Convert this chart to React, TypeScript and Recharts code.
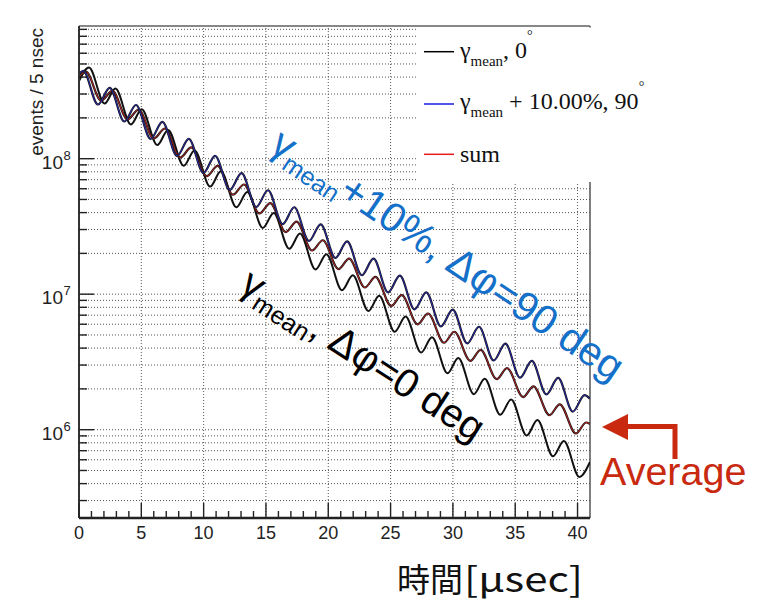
import React from "react";
import { Line, LineChart, ReferenceLine, XAxis, YAxis } from "recharts";

// extrema (peaks / troughs) of each wiggle curve, time in usec, events / 5 nsec
const meanT = [0, 0.8, 2.05, 2.92, 4.17, 5.03, 6.28, 7.15, 8.4, 9.27, 10.52, 11.38, 12.63, 13.5, 14.75, 15.62, 16.87, 17.73, 18.98, 19.85, 21.1, 21.97, 23.22, 24.08, 25.33, 26.2, 27.45, 28.32, 29.57, 30.43, 31.68, 32.55, 33.8, 34.67, 35.92, 36.78, 38.03, 38.9, 40.15, 41];
const meanN = [3.74e8, 4.7e8, 2.55e8, 3.3e8, 1.79e8, 2.32e8, 1.26e8, 1.63e8, 8.86e7, 1.15e8, 6.22e7, 8.07e7, 4.38e7, 5.67e7, 3.08e7, 3.98e7, 2.16e7, 2.8e7, 1.52e7, 1.97e7, 1.07e7, 1.38e7, 7.51e6, 9.74e6, 5.28e6, 6.84e6, 3.71e6, 4.81e6, 2.61e6, 3.38e6, 1.83e6, 2.38e6, 1.29e6, 1.67e6, 9.06e5, 1.18e6, 6.37e5, 8.26e5, 4.48e5, 5.78e5];

const plusT = [0, 0.34, 1.52, 2.46, 3.64, 4.57, 5.75, 6.69, 7.87, 8.81, 9.99, 10.92, 12.1, 13.04, 14.22, 15.16, 16.34, 17.27, 18.45, 19.39, 20.57, 21.51, 22.69, 23.63, 24.8, 25.74, 26.92, 27.86, 29.04, 29.98, 31.15, 32.09, 33.27, 34.21, 35.39, 36.33, 37.5, 38.44, 39.62, 40.56, 41];
const plusN = [4.22e8, 4.45e8, 2.51e8, 3.33e8, 1.88e8, 2.49e8, 1.4e8, 1.87e8, 1.05e8, 1.4e8, 7.86e7, 1.05e8, 5.89e7, 7.82e7, 4.4e7, 5.85e7, 3.29e7, 4.38e7, 2.47e7, 3.28e7, 1.85e7, 2.45e7, 1.38e7, 1.83e7, 1.03e7, 1.37e7, 7.73e6, 1.03e7, 5.78e6, 7.68e6, 4.33e6, 5.75e6, 3.24e6, 4.31e6, 2.42e6, 3.22e6, 1.82e6, 2.41e6, 1.36e6, 1.8e6, 1.69e6];

const sumT = [0, 0.57, 1.77, 2.68, 3.89, 4.79, 6.0, 6.9, 8.12, 9.01, 10.24, 11.12, 12.35, 13.23, 14.47, 15.34, 16.59, 17.45, 18.7, 19.56, 20.82, 21.67, 22.94, 23.78, 25.05, 25.89, 27.17, 28.0, 29.29, 30.11, 31.4, 32.22, 33.52, 34.34, 35.64, 36.46, 37.75, 38.57, 39.87, 40.69, 41];
const sumN = [4.01e8, 4.37e8, 2.68e8, 3.17e8, 1.95e8, 2.3e8, 1.41e8, 1.67e8, 1.02e8, 1.21e8, 7.43e7, 8.84e7, 5.42e7, 6.45e7, 3.94e7, 4.7e7, 2.87e7, 3.43e7, 2.1e7, 2.5e7, 1.53e7, 1.83e7, 1.12e7, 1.34e7, 8.19e6, 9.83e6, 5.99e6, 7.2e6, 4.38e6, 5.28e6, 3.22e6, 3.88e6, 2.36e6, 2.85e6, 1.74e6, 2.09e6, 1.28e6, 1.54e6, 9.38e5, 1.13e6, 1.1e6];

const yTicks = [
  3e5, 4e5, 5e5, 6e5, 7e5, 8e5, 9e5,
  1e6, 2e6, 3e6, 4e6, 5e6, 6e6, 7e6, 8e6, 9e6,
  1e7, 2e7, 3e7, 4e7, 5e7, 6e7, 7e7, 8e7, 9e7,
  1e8, 2e8, 3e8, 4e8, 5e8, 6e8, 7e8, 8e8, 9e8,
];
const yDecades = [1e6, 1e7, 1e8];
const xTicks = [0, 1, 2, 3, 4, 5, 6, 7, 8, 9, 10, 11, 12, 13, 14, 15, 16, 17, 18, 19, 20, 21, 22, 23, 24, 25, 26, 27, 28, 29, 30, 31, 32, 33, 34, 35, 36, 37, 38, 39, 40];
const xGrid = [5, 10, 15, 20, 25, 30, 35, 40];

const Y_MIN = 2.23e5;
const Y_MAX = 9.53e8;
const X_MAX = 41;

const SANS = "'Liberation Sans', Arial, Helvetica, sans-serif";
const SERIF = "'Liberation Serif', 'Times New Roman', serif";
const CJK = "'Noto Sans CJK JP', 'Noto Sans', sans-serif";
const BLUE_TEXT = "#1470c8";
const RED = "#c8290f";
const GRID = "#555";

const toPoints = (ts: number[], ns: number[]) => ts.map((t, i) => ({ t, v: ns[i] }));
const meanPts = toPoints(meanT, meanN);
const plusPts = toPoints(plusT, plusN);
const sumPts = toPoints(sumT, sumN);

function YTick({ x, y, payload }: any) {
  const v = payload.value as number;
  const major = yDecades.includes(v);
  const exp = Math.round(Math.log10(v));
  return (
    <g>
      <line x1={x} x2={x + (major ? 15 : 8)} y1={y} y2={y} stroke="#222" strokeWidth={1.4} />
      {major && (
        <>
          <text x={x - 16} y={y + 10} textAnchor="end" fontSize={19} fill="#222" fontFamily={SANS}>
            10
          </text>
          <text x={x - 15.5} y={y + 1} fontSize={13} fill="#222" fontFamily={SANS}>
            {exp}
          </text>
        </>
      )}
    </g>
  );
}

function XTick({ x, y, payload }: any) {
  const v = payload.value as number;
  const major = v % 5 === 0;
  return (
    <g>
      <line x1={x} x2={x} y1={y} y2={y - (major ? 15 : 7)} stroke="#222" strokeWidth={1.4} />
      {major && (
        <text x={x} y={y + 20.5} textAnchor="middle" fontSize={18} fill="#222" fontFamily={SANS}>
          {v}
        </text>
      )}
    </g>
  );
}

function Overlay() {
  return (
    <svg
      width={766}
      height={605}
      style={{ position: "absolute", left: 0, top: 0, pointerEvents: "none" }}
    >
      {/* legend box */}
      <rect x={417} y={27.5} width={349} height={154.5} fill="#fff" />
      <line x1={424} x2={454} y1={51.7} y2={51.7} stroke="#000" strokeWidth={1.5} />
      <line x1={424} x2={454} y1={104} y2={104} stroke="#1a1ae6" strokeWidth={1.5} />
      <line x1={424} x2={454} y1={154.3} y2={154.3} stroke="#e61a1a" strokeWidth={1.5} />
      <g fontFamily={SERIF} fontSize={24} fill="#111">
        <text x={460} y={58.3}>
          γ<tspan fontSize={15} dy={8}>mean</tspan>
          <tspan dy={-8}>, 0</tspan>
          <tspan fontSize={14} dy={-18}>°</tspan>
        </text>
        <text x={460} y={109.3}>
          γ<tspan fontSize={15} dy={8}>mean</tspan>
          <tspan dy={-8}> + 10.00%, 90</tspan>
          <tspan fontSize={14} dy={-18}>°</tspan>
        </text>
        <text x={460} y={161.7}>sum</text>
      </g>

      {/* axis titles */}
      <text
        transform="translate(43,28) rotate(-90)"
        textAnchor="end"
        fontSize={19}
        fontFamily={SANS}
        fill="#222"
      >
        events / 5 nsec
      </text>
      <text x={397} y={592} fontSize={33} fontFamily={CJK} fill="#111">
        時間
      </text>
      <text x={464} y={592} fontSize={34} fontFamily={CJK} fill="#111" textLength={119} lengthAdjust="spacingAndGlyphs">
        [μsec]
      </text>

      {/* curve annotations */}
      <text transform="translate(268,150) rotate(34)" fontFamily={SANS} fontSize={41} fill={BLUE_TEXT}>
        γ<tspan fontSize={25} dy={8}>mean</tspan>
        <tspan dy={-8}>+10%, Δφ=90 deg</tspan>
      </text>
      <text transform="translate(238,290) rotate(33)" fontFamily={SANS} fontSize={40} fill="#000">
        γ<tspan fontSize={25} dy={8}>mean</tspan>
        <tspan dy={-8}>, Δφ=0 deg</tspan>
      </text>

      {/* arrow to the averaged curve */}
      <polygon points="602,427 628,414 628,440" fill={RED} />
      <polyline points="626,426.5 675,426.5 675,459" fill="none" stroke={RED} strokeWidth={5} />
      <text x={600} y={485} fontFamily={SANS} fontSize={39.5} fill={RED}>
        Average
      </text>
    </svg>
  );
}

export default function App() {
  return (
    <div style={{ position: "absolute", left: 0, top: 0, width: 766, height: 605, background: "#fff" }}>
      <LineChart width={766} height={605} margin={{ top: 26, right: 176, bottom: 0, left: 0 }}>
        {/* dotted grid: every y tick, every 5 usec in x */}
        {yTicks.map((v) => (
          <ReferenceLine key={`h${v}`} y={v} stroke={GRID} strokeDasharray="1 2" />
        ))}
        {xGrid.map((v) => (
          <ReferenceLine key={`v${v}`} x={v} stroke={GRID} strokeDasharray="1 2" />
        ))}
        <ReferenceLine y={Y_MAX} stroke="#888" strokeWidth={2} />
        <ReferenceLine x={X_MAX} stroke="#555" strokeWidth={1.5} />
        <XAxis
          type="number"
          dataKey="t"
          domain={[0, X_MAX]}
          allowDataOverflow
          ticks={xTicks}
          interval={0}
          height={87}
          tickSize={0}
          tickMargin={0}
          tickLine={false}
          axisLine={{ stroke: "#222", strokeWidth: 2.5 }}
          tick={(p: any) => <XTick {...p} />}
        />
        <YAxis
          type="number"
          scale="log"
          domain={[Y_MIN, Y_MAX]}
          allowDataOverflow
          ticks={yTicks}
          interval={0}
          width={79}
          tickSize={0}
          tickMargin={0}
          tickLine={false}
          axisLine={{ stroke: "#333", strokeWidth: 2 }}
          tick={(p: any) => <YTick {...p} />}
        />
        <Line data={meanPts} dataKey="v" type="monotone" stroke="#111" strokeWidth={2} dot={false} isAnimationActive={false} />
        <Line data={sumPts} dataKey="v" type="monotone" stroke="#1a1a1a" strokeWidth={2.2} dot={false} isAnimationActive={false} />
        <Line data={sumPts} dataKey="v" type="monotone" stroke="#e02020" strokeWidth={0.8} dot={false} isAnimationActive={false} />
        <Line data={plusPts} dataKey="v" type="monotone" stroke="#1a1a1a" strokeWidth={2.2} dot={false} isAnimationActive={false} />
        <Line data={plusPts} dataKey="v" type="monotone" stroke="#2a2ad0" strokeWidth={0.8} dot={false} isAnimationActive={false} />
      </LineChart>
      <Overlay />
    </div>
  );
}
